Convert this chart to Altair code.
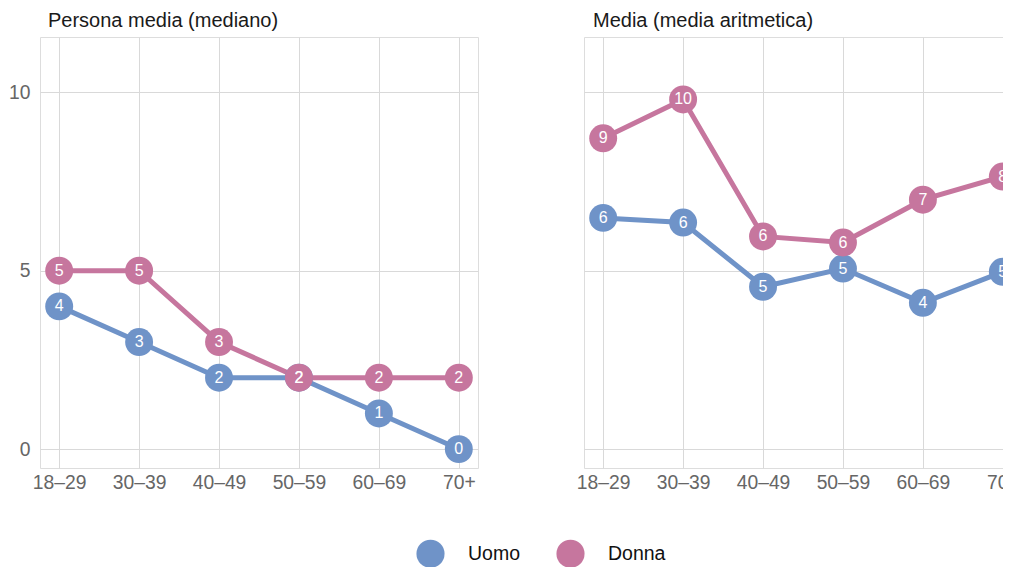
import altair as alt
import pandas as pd

ages = ["18–29", "30–39", "40–49", "50–59", "60–69", "70+"]
groups = ["Uomo", "Donna"]

median_uomo = [4, 3, 2, 2, 1, 0]
median_donna = [5, 5, 3, 2, 2, 2]
mean_uomo = [6.48, 6.35, 4.55, 5.06, 4.10, 4.97]
mean_donna = [8.71, 9.80, 5.96, 5.79, 6.99, 7.64]

colors = ["#6f93c8", "#c6769e"]
FONT = "Liberation Sans"


def frame(u, d):
    rows = []
    for a, v in zip(ages, u):
        rows.append({"age": a, "val": v, "gruppo": "Uomo", "lab": str(int(round(v)))})
    for a, v in zip(ages, d):
        rows.append({"age": a, "val": v, "gruppo": "Donna", "lab": str(int(round(v)))})
    return pd.DataFrame(rows)


def panel(df, title, show_y, dx, legend):
    x = alt.X("age:N", sort=ages, title=None,
              scale=alt.Scale(type="point", padding=0.24),
              axis=alt.Axis(labelAngle=0, labelFontSize=19.3, labelColor="#666666",
                            ticks=False, domain=False, grid=True, gridColor="#d9d9d9",
                            labelPadding=5, labelFont=FONT, minExtent=0))
    y = alt.Y("val:Q", title=None,
              scale=alt.Scale(domain=[-0.53, 11.55], nice=False, zero=False),
              axis=alt.Axis(values=[0, 5, 10], labels=show_y, ticks=False, domain=False,
                            grid=True, gridColor="#d9d9d9", labelFontSize=19.3,
                            labelColor="#666666", labelPadding=10, labelFont=FONT,
                            minExtent=0))
    col = alt.Color("gruppo:N", sort=groups,
                    scale=alt.Scale(domain=groups, range=colors),
                    legend=(alt.Legend(title=None, orient="none", direction="horizontal",
                                       legendX=376, legendY=502, symbolType="circle",
                                       symbolSize=790, symbolStrokeWidth=0,
                                       labelFontSize=19.5, labelColor="#111111",
                                       labelFont=FONT, labelOffset=23, columnPadding=35,
                                       symbolOpacity=1) if legend else None))
    base = alt.Chart(df).encode(x=x, y=y, color=col)
    line = base.mark_line(strokeWidth=5)
    pts = base.mark_circle(size=780, opacity=1)
    txt = alt.Chart(df).mark_text(color="white", fontSize=16, font=FONT).encode(
        x=alt.X("age:N", sort=ages), y="val:Q", text="lab:N")
    return alt.layer(line, pts, txt).properties(
        width=438, height=431,
        title=alt.TitleParams(title, anchor="start", frame="group", dx=dx, fontSize=20,
                              fontWeight="normal", color="#1a1a1a", font=FONT, offset=6))


left = panel(frame(median_uomo, median_donna), "Persona media (mediano)", True, 8, True)
right = panel(frame(mean_uomo, mean_donna), "Media (media aritmetica)", False, 9, False)

chart = alt.hconcat(left, right, spacing=96).properties(
    autosize=alt.AutoSizeParams(type="none"),
    padding={"left": 32, "top": 29, "right": 963, "bottom": 538}
).configure_view(strokeWidth=0).configure(background="white")

chart.save("out.html", embed_options={"renderer": "svg", "actions": False})
